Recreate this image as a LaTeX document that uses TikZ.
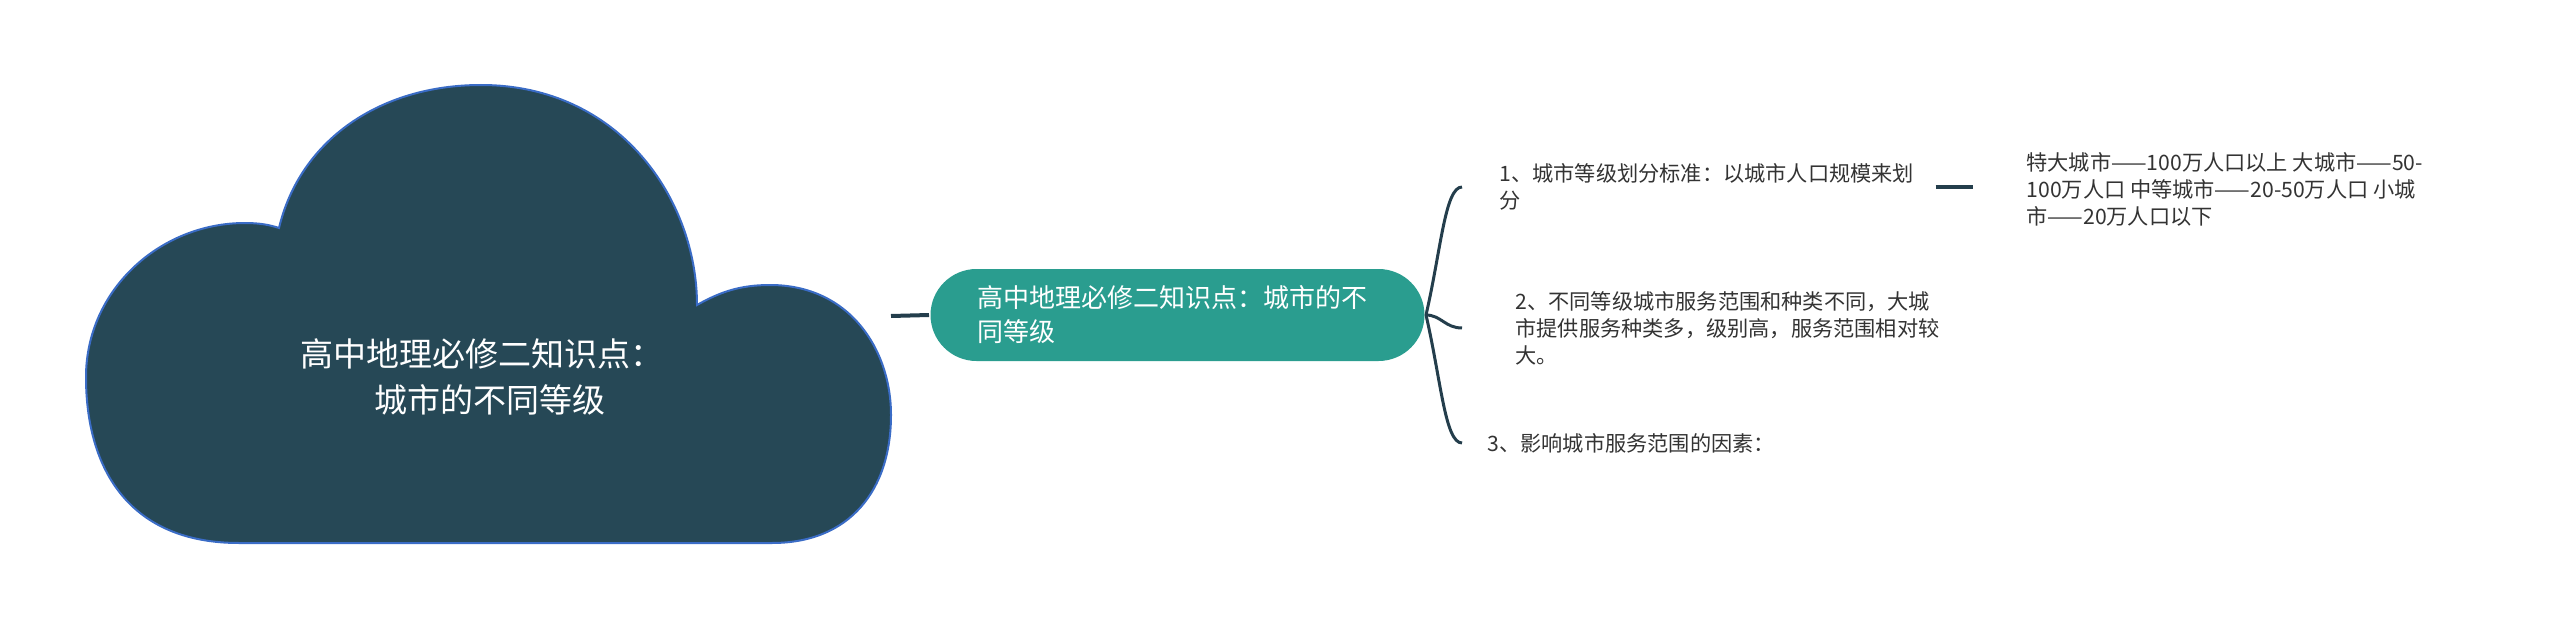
\documentclass[tikz,border=0pt]{standalone}
\usepackage{fontspec}
\setmainfont{Noto Sans CJK SC}
\usetikzlibrary{positioning,calc}
\definecolor{ink}{HTML}{333333}
\definecolor{slate}{HTML}{264856}
\definecolor{edge}{HTML}{3A6CC6}
\definecolor{mint}{HTML}{2A9D8F}
\definecolor{wire}{HTML}{243E4C}

\begin{document}
\begin{tikzpicture}[x=.5pt,y=-.5pt,line width=1.5pt,every node/.style={text=ink},leaf/.style={anchor=west,align=left,font=\fontsize{10.6}{13.5}\selectfont},branch/.style={wire,line width=1.5pt},stub/.style={wire,line width=2pt}]
\path[use as bounding box] (0,0) rectangle (2560,631);

% cloud
\draw[fill=slate,draw=edge,line width=1pt] (239,543) .. controls (130,543) and (86,470) .. (86,377) .. controls (86,290) and (160,223) .. (245,223) .. controls (260,223) and (270,225) .. (279,228) .. controls (300,140) and (380,85) .. (481,85) .. controls (620,85) and (697,200) .. (697,305) .. controls (720,292) and (740,285) .. (770,285) .. controls (850,285) and (891,350) .. (891,415) .. controls (891,490) and (850,543) .. (772,543) -- cycle;
\coordinate (cloudR) at (891,316);
\node[align=center,text=white,font=\fontsize{16.5}{23}\selectfont] (root) at (482,377) {高中地理必修二知识点：\\\hspace*{8pt}城市的不同等级};

\node[fill=mint,rounded corners=23pt,minimum height=46pt,inner xsep=23.5pt,anchor=west,text width=200pt,align=left,text=white,font=\fontsize{13}{17}\selectfont] (topic) at (929,315) {高中地理必修二知识点：城市的不\\同等级};
\draw[stub] (cloudR) -- (topic.west);

\node[leaf,inner xsep=18pt] (c1) at (1462,187) {1、城市等级划分标准：以城市人口规模来划\\分};
\node[leaf,inner xsep=26pt] (c2) at (1462,328) {2、不同等级城市服务范围和种类不同，大城\\市提供服务种类多，级别高，服务范围相对较\\大。};
\node[leaf,inner xsep=12pt] (c3) at (1462,443) {3、影响城市服务范围的因素：};
\draw[branch] (topic.east) .. controls +(15,-65) and +(-17,0) .. (c1.west);
\draw[branch] (topic.east) .. controls +(15,0) and +(-17,0) .. (c2.west);
\draw[branch] (topic.east) .. controls +(15,65) and +(-17,0) .. (c3.west);

\node[leaf,inner xsep=26pt] (g1) at (1973,189) {特大城市——100万人口以上 大城市——50-\\100万人口 中等城市——20-50万人口 小城\\市——20万人口以下};
\draw[stub,shorten <=-8pt] (c1.east) -- (c1.east -| g1.west);

\end{tikzpicture}
\end{document}
